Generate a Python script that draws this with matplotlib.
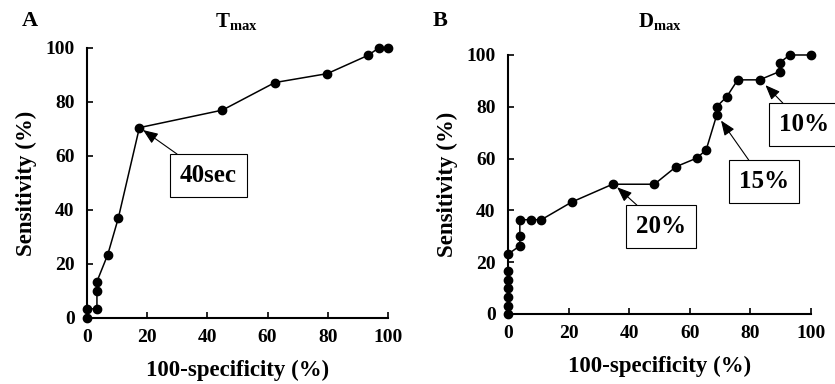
import numpy as np
import matplotlib
matplotlib.use("Agg")
import matplotlib.pyplot as plt

plt.rcParams['font.family'] = ['Liberation Serif', 'DejaVu Serif']
plt.rcParams['font.weight'] = 'bold'
plt.rcParams['mathtext.fontset'] = 'custom'
plt.rcParams['mathtext.bf'] = 'Liberation Serif:bold'
plt.rcParams['mathtext.rm'] = 'Liberation Serif:bold'

# Panel A: Tmax ROC curve
tmax_fpr = [0, 0, 3.3, 3.3, 3.3, 6.9, 10.4, 17.4, 45, 62.4, 79.8, 93.4, 96.9, 100]
tmax_sens = [0, 3.4, 3.4, 10, 13.5, 23.5, 37, 70.5, 77, 87.2, 90.5, 97.3, 100, 100]

# Panel B: Dmax ROC curve
dmax_fpr = [0, 0, 0, 0, 0, 0, 0, 3.9, 3.9, 3.9, 7.5, 11, 21, 34.5, 48.3,
            55.5, 62.3, 65.4, 68.9, 68.9, 72.2, 75.8, 83, 89.6, 89.6, 93, 100]
dmax_sens = [0, 3.2, 6.6, 9.9, 13.2, 16.5, 23.1, 26.3, 30, 36.4, 36.4, 36.4, 43.2,
             50.1, 50.1, 56.9, 60.2, 63.4, 76.9, 80.1, 83.9, 90.4, 90.4, 93.6, 97,
             100, 100]

ticks = [0, 20, 40, 60, 80, 100]

fig = plt.figure(figsize=(8.35, 3.84), dpi=100)
axA = fig.add_axes([0.1042, 0.1719, 0.3605, 0.7031])
axB = fig.add_axes([0.6084, 0.1823, 0.3629, 0.6745])

box = dict(boxstyle='square,pad=0.4', fc='white', ec='black', lw=0.8)
arrow = dict(arrowstyle='-|>,head_length=0.5,head_width=0.2', color='black',
             lw=0.8, shrinkA=0, shrinkB=3)


def style(ax):
    ax.set_xlim(0, 100)
    ax.set_ylim(0, 100)
    ax.set_xticks(ticks)
    ax.set_yticks(ticks)
    for s in ['top', 'right']:
        ax.spines[s].set_visible(False)
    for s in ['left', 'bottom']:
        ax.spines[s].set_linewidth(1.5)
    ax.tick_params(direction='in', length=4, width=1.2, labelsize=14)
    ax.tick_params(axis='x', pad=8)
    ax.tick_params(axis='y', pad=9)
    for lab in ax.get_xticklabels() + ax.get_yticklabels():
        lab.set_fontweight('bold')
    ax.set_xlabel('100-specificity (%)', fontsize=16.5, fontweight='bold', labelpad=10)
    ax.set_ylabel('Sensitivity (%)', fontsize=16.5, fontweight='bold', labelpad=6)


axA.plot(tmax_fpr, tmax_sens, '-o', color='black', lw=1.1, ms=6, clip_on=False)
style(axA)
axA.annotate('40sec', xy=(17.5, 70.5), xytext=(40.2, 52.6), fontsize=18,
             fontweight='bold', ha='center', va='center', bbox=box,
             arrowprops=arrow)

axB.plot(dmax_fpr, dmax_sens, '-o', color='black', lw=1.1, ms=6, clip_on=False)
style(axB)
axB.annotate('20%', xy=(35, 50), xytext=(50.5, 33.6), fontsize=18,
             fontweight='bold', ha='center', va='center', bbox=box,
             arrowprops=arrow)
axB.annotate('15%', xy=(69.5, 76), xytext=(84.5, 51), fontsize=18,
             fontweight='bold', ha='center', va='center', bbox=box,
             arrowprops=arrow)
axB.annotate('10%', xy=(84, 89.5), xytext=(97.7, 73), fontsize=18,
             fontweight='bold', ha='center', va='center', bbox=box,
             arrowprops=arrow, annotation_clip=False)

fig.text(22 / 835, 1 - 21 / 384, 'A', fontsize=16, fontweight='bold', va='center')
fig.text(433 / 835, 1 - 21 / 384, 'B', fontsize=16, fontweight='bold', va='center')
fig.text(236 / 835, 1 - 22 / 384, r'$\mathbf{T}_{\mathbf{max}}$', fontsize=15,
         ha='center', va='center')
fig.text(660 / 835, 1 - 22 / 384, r'$\mathbf{D}_{\mathbf{max}}$', fontsize=15,
         ha='center', va='center')

fig.savefig('out.png', dpi=100)
